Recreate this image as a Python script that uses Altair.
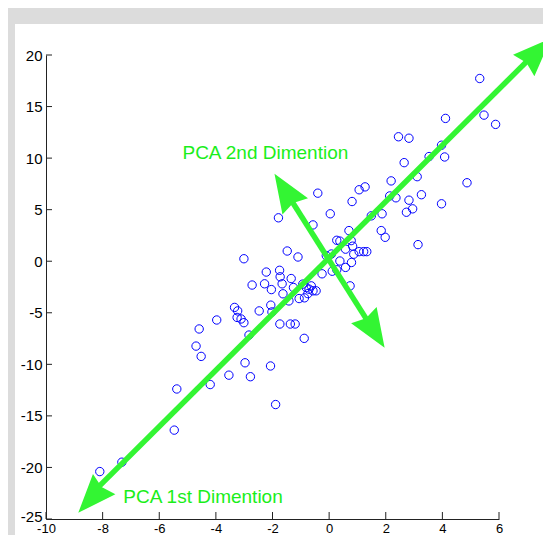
import altair as alt
import pandas as pd

# ---- data ----
xs = [-8.10, -7.32, -5.47, -5.38, -4.20, -3.54, -2.97, -2.78, -2.07, -1.89,
      -4.70, -4.52, -2.83, -0.88, -4.59, -3.97, -3.34, -3.23, -3.25, -3.11,
      -3.01, -2.47, -2.06, -2.02, -1.74, -1.37, -1.20, -3.01, -2.22, -2.28,
      -2.72, -2.04, -1.79, -1.75, -1.73, -1.34, -1.66, -1.26, -1.63, -1.42,
      -0.93, -0.81, -0.71, -0.63, -0.57, -0.75, -0.87, -1.06, -0.46, -1.48,
      -1.10, -0.40, 0.04, -0.57, -0.10, 0.08, 0.38, 0.58, 0.79, -0.25,
      0.11, 0.27, 0.74, 0.70, 0.27, 0.38, 0.58, 0.83, 0.87, 1.06,
      1.22, 1.33, 0.78, 0.81, 1.06, 1.27, 2.19, 2.14, 2.36, 1.49,
      1.87, 1.84, 1.98, 5.32, 5.47, 5.88, 4.11, 2.45, 2.82, 3.97,
      4.08, 3.53, 2.65, 3.11, 4.87, 3.26, 2.82, 2.73, 2.95, 3.97,
      3.14]
ys = [-20.40, -19.49, -16.38, -12.39, -11.96, -11.05, -9.85, -11.20, -10.16, -13.90,
      -8.23, -9.23, -7.16, -7.48, -6.57, -5.70, -4.48, -4.82, -5.45, -5.60,
      -5.96, -4.82, -4.26, -4.92, -6.09, -6.09, -6.09, 0.24, -1.05, -2.19,
      -2.31, -2.75, 4.21, -0.88, -1.51, -1.68, -2.19, -2.55, -3.16, -3.85,
      -2.22, -2.55, -2.71, -2.39, -2.87, -3.14, -3.55, -3.62, -2.87, 0.99,
      0.41, 6.60, 4.60, 3.52, 0.54, 0.70, 0.02, -0.60, -0.12, -1.22,
      -0.97, -0.83, -2.39, 2.97, 2.03, 1.95, 1.17, 1.46, 0.68, 0.93,
      0.93, 0.93, 2.00, 5.79, 6.93, 7.21, 7.79, 6.33, 6.15, 4.40,
      4.60, 2.97, 2.32, 17.72, 14.17, 13.27, 13.85, 12.07, 11.93, 11.25,
      10.11, 10.15, 9.56, 8.20, 7.61, 6.45, 5.92, 4.75, 5.08, 5.57,
      1.61]

# arrow tips (PCA directions) and shaft ends
tip_x = [7.84, -8.86, -1.93, 1.96]
tip_y = [21.64, -24.40, 8.49, -8.39]
tip_angle = [45, 222, 327.6, 147.6]
shaft_x1 = [-8.10, -1.36]
shaft_y1 = [-21.76, 6.01]
shaft_x2 = [7.09, 1.39]
shaft_y2 = [19.67, -5.93]

label_text = ["PCA 2nd Dimention", "PCA 1st Dimention"]
label_x = [-5.18, -7.27]
label_y = [9.88, -23.47]

x_ticks = [-10, -8, -6, -4, -2, 0, 2, 4, 6]
y_ticks = [-25, -20, -15, -10, -5, 0, 5, 10, 15, 20]

# ---- chart ----
W, H = 453, 464
FONT = "Liberation Sans, Arial, sans-serif"
GREEN = "#33f533"

xs_scale = alt.Scale(domain=[-10, 6], nice=False, zero=False)
ys_scale = alt.Scale(domain=[-25, 20], nice=False, zero=False)

X_AX = alt.Axis(values=x_ticks, ticks=False, grid=False, domainColor="#222",
                labelFont=FONT, labelFontSize=13, labelColor="black",
                labelFlush=False, labelOverlap=False,
                labelPadding=3, labelExpr="'' + datum.value", zindex=1)
Y_AX = alt.Axis(values=y_ticks, ticks=False, grid=False, domainColor="#222",
                labelFont=FONT, labelFontSize=15, labelColor="black",
                labelFlush=False, labelOverlap=False,
                labelOffset={"condition": {"test": "datum.value == -25", "value": -3},
                             "value": 0},
                labelPadding=4, labelExpr="'' + datum.value", zindex=1)


def X(f):
    return alt.X(f, scale=xs_scale, axis=X_AX, title=None)


def Y(f):
    return alt.Y(f, scale=ys_scale, axis=Y_AX, title=None)


pts = pd.DataFrame({"x": xs, "y": ys})
tips = pd.DataFrame({"x": tip_x, "y": tip_y, "a": tip_angle})
shafts = pd.DataFrame({"x": shaft_x1, "y": shaft_y1, "x2": shaft_x2, "y2": shaft_y2})
labels = pd.DataFrame({"t": label_text, "x": label_x, "y": label_y})
xt = pd.DataFrame({"v": x_ticks})
yt = pd.DataFrame({"v": y_ticks})

panel = alt.Chart(pd.DataFrame({"k": [0]})).mark_rect(color="white").encode(
    x=alt.value(-31), x2=alt.value(700), y=alt.value(-31), y2=alt.value(700)
)

scatter = alt.Chart(pts).mark_point(
    shape="circle", filled=False, color="#0000ff", strokeWidth=1, size=70, opacity=1
).encode(x=X("x:Q"), y=Y("y:Q"))

xtick_layer = alt.Chart(xt).mark_rule(color="#222", strokeWidth=1).encode(
    x=X("v:Q"), y=alt.value(H), y2=alt.value(H - 7)
)
ytick_layer = alt.Chart(yt).mark_rule(color="#222", strokeWidth=1).encode(
    y=Y("v:Q"), x=alt.value(0), x2=alt.value(6)
)

shaft_layer = alt.Chart(shafts).mark_rule(color=GREEN, strokeWidth=5.5).encode(
    x=X("x:Q"), y=Y("y:Q"), x2="x2:Q", y2="y2:Q"
)

head_layer = alt.Chart(tips).mark_point(
    shape="M0,0L-0.78,2L0,1.8L0.78,2Z", filled=True, color=GREEN, opacity=1,
    size=1500, strokeWidth=0
).encode(x=X("x:Q"), y=Y("y:Q"), angle=alt.Angle("a:Q", scale=None))

text_layer = alt.Chart(labels).mark_text(
    align="left", baseline="alphabetic", font=FONT, fontSize=19, color="#1aee1a"
).encode(x=X("x:Q"), y=Y("y:Q"), text="t:N")

chart = alt.layer(
    panel, scatter, xtick_layer, ytick_layer, shaft_layer, head_layer, text_layer
).properties(
    width=W, height=H,
    autosize=alt.AutoSizeParams(type="none"),
    padding={"left": 38, "top": 47, "right": 44, "bottom": 16},
    background="#dcdcdc",
).configure_view(stroke=None)

chart.save("out.html", embed_options={"renderer": "svg", "actions": False})
